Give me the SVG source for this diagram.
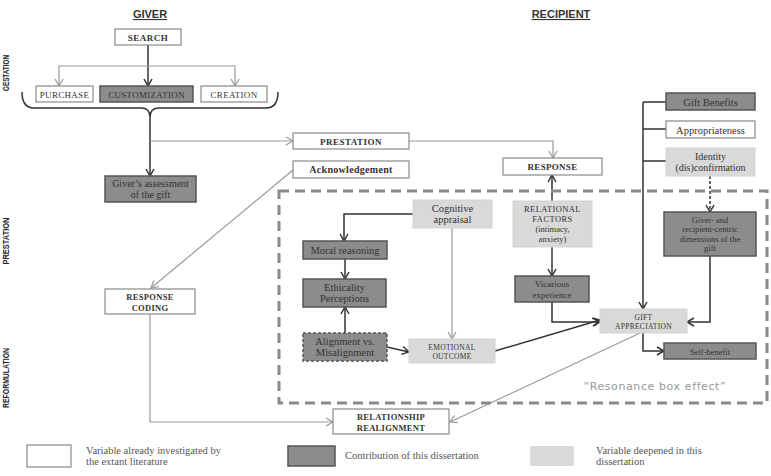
<svg xmlns="http://www.w3.org/2000/svg" width="771" height="476" viewBox="0 0 771 476">
<defs>
<style>
.w{fill:#fff;stroke:#8a8a8a;stroke-width:1.2}
.d{fill:#8c8c8c;stroke:#555;stroke-width:1.5}
.l{fill:#d9d9d9;stroke:#d3d3d3;stroke-width:1}
.t{font-family:"Liberation Serif",serif;fill:#333;text-anchor:middle}
.b{font-weight:bold}
.lg{font-family:"Liberation Serif",serif;fill:#555;font-size:10.5px}
.side{font-family:"Liberation Sans",Arial,sans-serif;font-weight:bold;font-size:9.5px;fill:#222;text-anchor:middle}
.hd{font-family:"Liberation Sans",Arial,sans-serif;font-weight:bold;font-size:11px;fill:#333;text-anchor:middle;text-decoration:underline}
.cd{fill:none;stroke:#333;stroke-width:1.5;marker-end:url(#ad)}
.cg{fill:none;stroke:#999;stroke-width:1.2;marker-end:url(#ag)}
.ln{fill:none;stroke:#333;stroke-width:1.5}
</style>
<marker id="ad" markerUnits="userSpaceOnUse" markerWidth="10" markerHeight="10" refX="8" refY="5" orient="auto">
<path d="M1,1 L8,5 L1,9" fill="none" stroke="#333" stroke-width="1.5"/>
</marker>
<marker id="ag" markerUnits="userSpaceOnUse" markerWidth="10" markerHeight="10" refX="8" refY="5" orient="auto">
<path d="M1,1 L8,5 L1,9" fill="none" stroke="#999" stroke-width="1.2"/>
</marker>
</defs>
<rect width="771" height="476" fill="#fff"/>

<g id="headers">
<text class="hd" x="150" y="18">GIVER</text>
<text class="hd" x="561" y="18">RECIPIENT</text>
<text class="side" transform="translate(9,73) rotate(-90)" textLength="36" lengthAdjust="spacingAndGlyphs">GESTATION</text>
<text class="side" transform="translate(9,241) rotate(-90)" textLength="47" lengthAdjust="spacingAndGlyphs">PRESTATION</text>
<text class="side" transform="translate(9,378) rotate(-90)" textLength="60" lengthAdjust="spacingAndGlyphs">REFORMULATION</text>
</g>

<g id="connectors">
<path class="cd" d="M148,45 V86"/>
<path class="cg" d="M148,66 H59 V86"/>
<path class="cg" d="M148,66 H235 V86"/>
<path class="ln" d="M22,92 Q22,108 34,108 L141,108 Q150,108 150,117 Q150,108 159,108 L266,108 Q278,108 278,92" stroke="#444"/>
<path class="cd" d="M150,117 V176"/>
<path class="cg" d="M150,141 H293"/>
<path class="cg" d="M409,141 H553 V158"/>
<path class="cg" d="M293,170 L151,288"/>
<path class="cg" d="M150,314 V422 H333"/>
<path class="cd" d="M413,214 H344 V241"/>
<path class="cd" d="M345,259 V279"/>
<path class="cd" d="M345,333 V307"/>
<path class="cd" d="M387,347 L409,352"/>
<path class="cg" d="M452,228 V339"/>
<path class="cd" d="M495,351 L600,320"/>
<path class="cd" d="M552,201 V175"/>
<path class="cd" d="M552,247 V276"/>
<path class="cd" d="M552,302 V322 H600"/>
<path class="ln" d="M643,102 H666 M643,129 H666 M643,161 H666"/>
<path class="cd" d="M643,102 V309"/>
<path class="cd" d="M710,176 V212" stroke-dasharray="3,2"/>
<path class="cd" d="M710,256 V322 H687"/>
<path class="cd" d="M643,333 V351 H664"/>
<path class="cg" d="M640,333 L450,422"/>
</g>

<g id="resonance-box">
<rect x="279" y="191" width="488" height="212" fill="none" stroke="#8a8a8a" stroke-width="3" stroke-dasharray="10,6"/>
<text x="655" y="390" font-family="DejaVu Sans,sans-serif" font-size="11" fill="#999" text-anchor="middle" letter-spacing="0.6">“Resonance box effect”</text>
</g>

<g id="search"><rect class="w" x="115" y="29" width="66" height="16"/><text class="t b" x="148" y="40.5" font-size="9" letter-spacing="0.5">SEARCH</text></g>
<g id="purchase"><rect class="w" x="36" y="86" width="57" height="16"/><text class="t" x="64.5" y="97.5" font-size="9" fill="#555" letter-spacing="0.3">PURCHASE</text></g>
<g id="customization"><rect class="d" x="100" y="86" width="93" height="16"/><text class="t" x="146.5" y="97.5" font-size="9" letter-spacing="0.3">CUSTOMIZATION</text></g>
<g id="creation"><rect class="w" x="201" y="86" width="66" height="16"/><text class="t" x="234" y="97.5" font-size="9" fill="#555" letter-spacing="0.3">CREATION</text></g>
<g id="givers-assessment"><rect class="d" x="105" y="176" width="91" height="26"/><text class="t" x="150.5" y="187" font-size="10">Giver’s assessment</text><text class="t" x="150.5" y="198" font-size="10">of the gift</text></g>
<g id="prestation"><rect class="w" x="293" y="133" width="116" height="16"/><text class="t b" x="351" y="144.5" font-size="9" letter-spacing="0.5">PRESTATION</text></g>
<g id="acknowledgement"><rect class="w" x="293" y="161" width="116" height="17"/><text class="t b" x="351" y="173" font-size="10" letter-spacing="0.3">Acknowledgement</text></g>
<g id="response"><rect class="w" x="503" y="158" width="99" height="17"/><text class="t b" x="552.5" y="170" font-size="9" letter-spacing="0.3">RESPONSE</text></g>
<g id="response-coding"><rect class="w" x="105" y="289" width="90" height="25"/><text class="t b" x="150" y="300" font-size="8.5" letter-spacing="0.3">RESPONSE</text><text class="t b" x="150" y="310.5" font-size="8.5" letter-spacing="0.3">CODING</text></g>
<g id="relationship-realignment"><rect class="w" x="333" y="409" width="116" height="25"/><text class="t b" x="391" y="420" font-size="8.5" letter-spacing="0.3">RELATIONSHIP</text><text class="t b" x="391" y="430.5" font-size="8.5" letter-spacing="0.3">REALIGNMENT</text></g>
<g id="cognitive-appraisal"><rect class="l" x="413" y="200" width="79" height="28"/><text class="t" x="452.5" y="212" font-size="10.5">Cognitive</text><text class="t" x="452.5" y="223" font-size="10.5">appraisal</text></g>
<g id="moral-reasoning"><rect class="d" x="303" y="241" width="84" height="18"/><text class="t" x="345" y="254" font-size="10.5">Moral reasoning</text></g>
<g id="ethicality-perceptions"><rect class="d" x="303" y="279" width="83" height="28"/><text class="t" x="344.5" y="291" font-size="10.5">Ethicality</text><text class="t" x="344.5" y="302" font-size="10.5">Perceptions</text></g>
<g id="alignment"><rect class="d" x="303" y="333" width="84" height="28" stroke-dasharray="3,2"/><text class="t" x="345" y="345" font-size="10.5">Alignment vs.</text><text class="t" x="345" y="356" font-size="10.5">Misalignment</text></g>
<g id="emotional-outcome"><rect class="l" x="409" y="339" width="86" height="24"/><text class="t" x="452" y="349.5" font-size="7.5" letter-spacing="0.3">EMOTIONAL</text><text class="t" x="452" y="358.5" font-size="7.5" letter-spacing="0.3">OUTCOME</text></g>
<g id="relational-factors"><rect class="l" x="513" y="201" width="79" height="46"/><text class="t" x="552.5" y="212" font-size="8.5" letter-spacing="0.4">RELATIONAL</text><text class="t" x="552.5" y="222" font-size="8.5" letter-spacing="0.4">FACTORS</text><text class="t" x="552.5" y="232" font-size="8.5">(intimacy,</text><text class="t" x="552.5" y="242" font-size="8.5">anxiety)</text></g>
<g id="vicarious-experience"><rect class="d" x="515" y="276" width="74" height="26"/><text class="t" x="552" y="287" font-size="9">Vicarious</text><text class="t" x="552" y="297.5" font-size="9">experience</text></g>
<g id="gift-appreciation"><rect class="l" x="600" y="309" width="87" height="24"/><text class="t" x="643.5" y="319.5" font-size="7.5" letter-spacing="0.3">GIFT</text><text class="t" x="643.5" y="328.5" font-size="7.5" letter-spacing="0.3">APPRECIATION</text></g>
<g id="gift-benefits"><rect class="d" x="666" y="93" width="89" height="17"/><text class="t" x="710.5" y="105.5" font-size="10.5">Gift Benefits</text></g>
<g id="appropriateness"><rect class="w" x="666" y="121" width="89" height="17"/><text class="t" x="710.5" y="133.5" font-size="10.5">Appropriateness</text></g>
<g id="identity"><rect class="l" x="666" y="148" width="89" height="28"/><text class="t" x="710.5" y="160" font-size="10">Identity</text><text class="t" x="710.5" y="171" font-size="10">(dis)confirmation</text></g>
<g id="giver-recipient-dimensions"><rect class="d" x="664" y="212" width="92" height="44"/><text class="t" x="710" y="222.5" font-size="8.5">Giver- and</text><text class="t" x="710" y="232" font-size="8.5">recipient-centric</text><text class="t" x="710" y="241.5" font-size="8.5">dimensions of the</text><text class="t" x="710" y="251" font-size="8.5">gift</text></g>
<g id="self-benefit"><rect class="d" x="664" y="343" width="92" height="16"/><text class="t" x="710" y="354.5" font-size="8.5">Self-benefit</text></g>

<g id="legend">
<rect class="w" x="27" y="445" width="44" height="22"/>
<text class="lg" x="86" y="454">Variable already investigated by</text>
<text class="lg" x="86" y="465">the extant literature</text>
<rect class="d" x="288" y="446" width="47" height="20"/>
<text class="lg" x="345" y="459">Contribution of this dissertation</text>
<rect x="530" y="446" width="44" height="20" fill="#d9d9d9"/>
<text class="lg" x="596" y="454">Variable deepened in this</text>
<text class="lg" x="596" y="465">dissertation</text>
</g>
</svg>
